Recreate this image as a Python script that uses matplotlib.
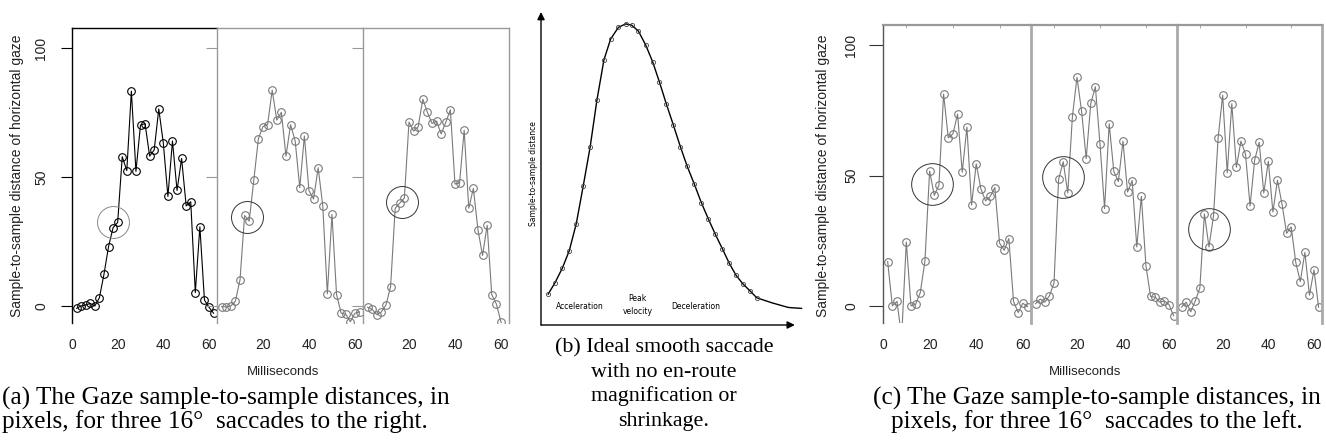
import numpy as np
import matplotlib.pyplot as plt

W, H = 1326, 448

# time stamps of the gaze samples (ms)
ms = [2, 4, 6, 8, 10, 12, 14, 16, 18, 20, 22, 24, 26, 28, 30, 32,
      34, 36, 38, 40, 42, 44, 46, 48, 50, 52, 54, 56, 58, 60, 62]

# (a) saccades to the right
right1 = [-0.9, 0.0, 0.4, 1.0, 0.0, 3.2, 12.3, 23.0, 30.4, 32.4, 57.9, 52.5, 83.3, 52.2, 70.2, 70.7,
          58.1, 60.5, 76.4, 63.1, 42.5, 64.0, 44.8, 57.2, 38.8, 40.4, 5.2, 30.7, 2.3, -0.5, -2.8]
right2 = [-0.3, -0.3, 0.0, 1.9, 10.1, 35.1, 32.9, 48.7, 64.9, 69.6, 70.3, 83.7, 72.1, 75.1, 58.1, 70.3,
          64.0, 45.9, 65.9, 44.7, 41.5, 53.6, 38.9, 4.7, 35.5, 4.4, -2.8, -3.2, -6.1, -2.8, -2.3]
right3 = [-0.5, -1.3, -3.4, -2.3, 0.4, 7.5, 37.9, 39.9, 41.9, 71.3, 67.8, 69.5, 80.2, 75.1, 70.8, 71.7,
          66.7, 71.2, 76.1, 47.3, 47.7, 68.2, 37.9, 45.6, 29.5, 19.6, 31.3, 4.4, 0.8, -6.2, -10.0]

# (c) saccades to the left
left1 = [17.0, 0.0, 1.7, -12.0, 24.5, 0.0, 0.6, 5.1, 17.3, 51.7, 42.4, 46.3, 81.3, 64.5, 66.0, 73.6,
         51.3, 68.6, 38.7, 54.5, 44.9, 40.3, 42.0, 45.4, 24.1, 21.3, 25.8, 1.7, -2.6, 1.0, -0.3]
left2 = [0.8, 2.6, 1.4, 3.8, 8.7, 48.5, 55.3, 43.3, 72.6, 87.7, 74.7, 56.5, 77.7, 84.1, 62.2, 37.3,
         69.9, 51.7, 47.7, 63.2, 43.7, 48.1, 22.6, 42.0, 15.3, 3.6, 3.3, 1.4, 1.9, 0.5, -3.8]
left3 = [-0.5, 1.4, -2.3, 1.9, 6.8, 35.3, 22.6, 34.6, 64.4, 80.9, 51.0, 77.6, 53.2, 63.2, 58.3, 38.3,
         55.9, 62.8, 43.3, 55.5, 36.0, 48.2, 39.0, 27.8, 30.3, 16.7, 9.3, 20.5, 4.1, 13.8, -0.5]

# highlighted regions (x, y) in each sub-plot
rings_right = [(18.1, 32.7), (13.2, 34.4), (16.8, 40.3)]
rings_left = [(21.2, 46.8), (13.9, 49.3), (13.9, 29.5)]

# (b) ideal saccade profile (arbitrary units)
ideal_t = [2.8, 5.4, 8.2, 10.9, 13.6, 16.3, 19.0, 21.6, 24.3, 26.9, 29.9, 32.7, 35.0, 37.6, 40.4, 43.1,
           45.7, 48.4, 51.1, 53.8, 56.4, 59.2, 61.9, 64.6, 67.3, 70.0, 72.7, 75.3, 78.0, 80.7, 83.3]
ideal_v = [9.9, 13.5, 18.1, 23.7, 32.3, 44.4, 57.0, 71.9, 84.7, 91.4, 95.1, 96.2, 95.8, 93.9, 89.5, 84.1,
           77.7, 70.6, 63.9, 57.0, 50.8, 45.0, 39.1, 33.9, 29.0, 24.4, 19.7, 15.9, 13.1, 10.9, 8.7]
tail_t = [89.1, 95.5, 100.6]
tail_v = [7.1, 5.6, 5.3]

plt.rcParams['font.family'] = ['Liberation Sans', 'DejaVu Sans']

fig = plt.figure(figsize=(W / 100, H / 100), dpi=100)


def px_box(l, r, t, b):
    return [l / W, 1 - b / H, (r - l) / W, (b - t) / H]


def saccade(box, y, ring, col, ring_col, ring_size, first):
    ax = fig.add_axes(px_box(*box))
    ax.plot(ms, y, '-o', color=col, lw=0.8, ms=5.5, mfc='none', mew=0.8)
    ax.plot([ring[0]], [ring[1]], 'o', ms=ring_size, mfc='none', mec=ring_col, mew=0.7)
    ax.set_xlim(0, 63.5)
    ax.set_ylim(-6.6, 107.8)
    ax.spines['bottom'].set_visible(False)
    ax.set_xticks([0, 20, 40, 60] if first else [20, 40, 60])
    ax.tick_params(axis='x', length=0, pad=11, labelsize=10, labelcolor='#222')
    ax.set_yticks([0, 50, 100])
    ax.set_facecolor('none')
    return ax


grey = '#7a7a7a'

# ---- (a) ----
boxes_a = [(72, 217, 28, 323), (217, 363, 28, 323), (363, 509, 28, 323)]
cols_a = ['black', grey, grey]
ring_cols_a = ['#888888', '#333333', '#333333']
for i, y in enumerate([right1, right2, right3]):
    ax = saccade(boxes_a[i], y, rings_right[i], cols_a[i], ring_cols_a[i], 23, i == 0)
    for s in ['left', 'top', 'right']:
        ax.spines[s].set_color(cols_a[i] if i == 0 else '#999999')
        ax.spines[s].set_linewidth(1.0)
    if i < 2:
        ax.spines['right'].set_visible(False)
    if i == 0:
        ax.tick_params(axis='y', length=8, color='black', pad=9, labelsize=10,
                       labelrotation=90, labelcolor='#222')
        for lab in ax.get_yticklabels():
            lab.set_va('center')
    else:
        ax.tick_params(axis='y', length=8, color='#999999', labelleft=False)

# ---- (c) ----
boxes_c = [(883, 1031, 25, 323), (1031, 1177, 25, 323), (1177, 1322, 25, 323)]
for i, y in enumerate([left1, left2, left3]):
    ax = saccade(boxes_c[i], y, rings_left[i], grey, '#333333', 30, i == 0)
    ax.spines['top'].set_color('#999999')
    ax.spines['top'].set_linewidth(1.6)
    ax.spines['left'].set_color('#555555' if i == 0 else '#aaaaaa')
    ax.spines['left'].set_linewidth(1.0 if i == 0 else 2.0)
    ax.spines['right'].set_color('#aaaaaa')
    ax.spines['right'].set_linewidth(2.0)
    if i < 2:
        ax.spines['right'].set_visible(False)
    ax.set_xticks([10, 30, 50], minor=True)
    ax.tick_params(axis='x', which='minor', top=True, bottom=False, direction='in',
                   length=2, color='#999999')
    if i == 0:
        ax.tick_params(axis='y', length=10, color='#333333', pad=8, labelsize=10,
                       labelrotation=90, labelcolor='#222')
        for lab in ax.get_yticklabels():
            lab.set_va('center')
    else:
        ax.tick_params(axis='y', length=0, labelleft=False)

ylab = 'Sample-to-sample distance of horizontal gaze'
fig.text(17 / W, 1 - 176 / H, ylab, rotation=90, ha='center', va='center', fontsize=10, color='#222')
fig.text(823 / W, 1 - 176 / H, ylab, rotation=90, ha='center', va='center', fontsize=10, color='#222')
fig.text(283 / W, 1 - 372 / H, 'Milliseconds', ha='center', va='center', fontsize=9.5, color='#222')
fig.text(1085 / W, 1 - 372 / H, 'Milliseconds', ha='center', va='center', fontsize=9.5, color='#222')

# ---- (b) ----
axb = fig.add_axes(px_box(541, 800, 12, 325))
axb.axis('off')
axb.set_xlim(0, 100)
axb.set_ylim(0, 100)
axb.plot(ideal_t + tail_t, ideal_v + tail_v, color='black', lw=1.0, clip_on=False)
axb.plot(ideal_t, ideal_v, 'o', ms=3, mfc='none', mec='#444444', mew=0.6, clip_on=False)
arrow = dict(arrowstyle='-|>', color='black', lw=1.0, mutation_scale=11, shrinkA=0, shrinkB=0)
axb.annotate('', xy=(0, 100), xytext=(0, 0), arrowprops=arrow, annotation_clip=False)
axb.annotate('', xy=(98, 0), xytext=(0, 0), arrowprops=arrow, annotation_clip=False)
narrow = ['Liberation Sans Narrow', 'DejaVu Sans']
axb.text(15.1, 5.8, 'Acceleration', ha='center', va='center', fontsize=5.5, family=narrow)
axb.text(37.3, 6.4, 'Peak\nvelocity', ha='center', va='center', fontsize=5.5, family=narrow,
         linespacing=1.6)
axb.text(59.7, 5.8, 'Deceleration', ha='center', va='center', fontsize=5.5, family=narrow)
axb.text(-3.0, 48.5, 'Sample-to-sample distance', rotation=90, ha='center', va='center',
         fontsize=5.5, family=narrow)

# ---- captions ----
serif = ['Liberation Serif', 'DejaVu Serif']
cap = dict(fontsize=18.2, family=serif, va='baseline')
fig.text(2 / W, 1 - 405 / H, '(a) The Gaze sample-to-sample distances, in', ha='left', **cap)
fig.text(2 / W, 1 - 428 / H, 'pixels, for three 16°  saccades to the right.', ha='left', **cap)
capb = dict(cap, fontsize=15.8)
for k, line in enumerate(['(b) Ideal smooth saccade', 'with no en-route',
                          'magnification or', 'shrinkage.']):
    fig.text(664 / W, 1 - (352 + 24.5 * k) / H, line, ha='center', **capb)
fig.text(1097 / W, 1 - 405 / H, '(c) The Gaze sample-to-sample distances, in', ha='center', **cap)
fig.text(1097 / W, 1 - 428 / H, 'pixels, for three 16°  saccades to the left.', ha='center', **cap)

fig.savefig('out.png', dpi=100)
